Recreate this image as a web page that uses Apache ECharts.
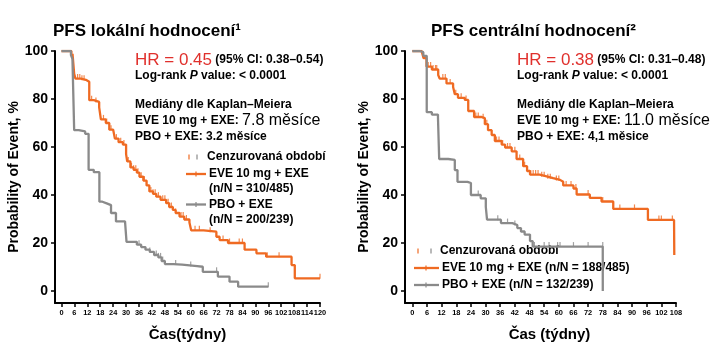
<!DOCTYPE html>
<html>
<head>
<meta charset="utf-8">
<script src="https://cdn.jsdelivr.net/npm/echarts@6/dist/echarts.min.js"></script>
<style>
html,body{margin:0;padding:0;background:#fff}
#chart{width:722px;height:351px}
</style>
</head>
<body>
<div id="chart"></div>
<script>
// tick labels
var lokTicks = [0,6,12,18,24,30,36,42,48,54,60,66,72,78,84,90,96,102,108,114,120];
var cenTicks = [0,6,12,18,24,30,36,42,48,54,60,66,72,78,84,90,96,102,108];
var yTicks = [0,20,40,60,80,100];

// PFS lokalni hodnoceni - [tyden, %]
var lokEve = [[0,100],[3,100],[4.6,99],[5.3,97],[5.9,90.5],[6.5,88.5],[9,88],[11.3,87.2],[12.9,79.5],[15,78.8],[17.5,76.5],[18.3,71.5],[20.6,70],[22.2,67.2],[24,66.5],[24.8,63.5],[26.5,62],[28.5,61],[30,57],[30.5,54],[32,51.5],[33.5,50.5],[35,49.3],[36.2,47.6],[38,46],[39.5,44],[40.8,41.5],[42.5,40.5],[44,39.3],[46,38],[48.6,36.6],[50,35],[51.7,33.8],[53,32.5],[54.8,31],[57,29.8],[59.4,28.5],[60.2,25.3],[66,24.7],[71.9,22.6],[73.4,21.2],[77.3,20],[85,17.2],[90.5,15.7],[95,14.3],[106.8,10.8],[108.3,5.3],[120,5.3]];
var lokPbo = [[0,100],[2.8,100],[4.4,98.3],[5.1,96.7],[5.9,67],[8,66.5],[11,65.5],[12.6,50.5],[15,49.5],[17.6,37.2],[19,36.5],[21,35.8],[23,32.5],[25.3,29],[29.5,28.8],[30.2,20.5],[35,19.3],[37,18.3],[39,17.2],[41,16.3],[43,15],[45,14],[46.5,12.5],[48,11.2],[52,11],[56,10.4],[63,10.1],[65.6,8],[72.6,6],[78,3.9],[82,1.8],[96,1.8]];
var lokEveCens = [5.5,7.5,8.5,9.5,10.5,14,16,19.5,21,23,25.5,27.5,29,31,32.5,33.5,34.5,35.5,37,38.5,39.5,41.5,42.5,43.5,45,47,48,49.5,51,53,55.5,56.5,58,62,64,69,75,78,82.5,84,95.5,101,120];
var lokPboCens = [36,41,44,45,46,47,53,60,72,96];

// PFS centralni hodnoceni - [tyden, %]
var cenEve = [[0,100],[3.8,100],[4.6,97],[5.8,93.5],[8,92.3],[10.6,90],[11.2,88.5],[14,86.5],[16.7,85],[17.4,82],[18.7,80.5],[21.5,79.6],[22.9,75],[25.3,72.5],[28.4,72],[29.7,69.5],[31,67],[32.5,65],[33.8,62.5],[36.6,61],[38,59.8],[40.7,58.2],[42.7,55],[45.4,52],[47,50],[48.2,48.5],[52.2,47.8],[55,47],[57.7,46.3],[60.5,45.5],[61.8,44],[66,42.7],[67.3,40.2],[72.7,38.8],[77.5,37.3],[82.3,34.2],[96.5,29.6],[107.2,29.6],[107.3,15]];
var cenPbo = [[0,100],[3,99.5],[4.5,98],[5.9,74.5],[8,73.5],[10.5,72.5],[11,55],[14.7,54.6],[17.4,50.4],[18.5,45.5],[22.6,45],[24,40],[28,38.6],[30.1,35],[30.6,29.7],[36.3,28.3],[41,27.5],[43,26.2],[44.5,24.8],[46,23.5],[48.2,20.8],[49.3,18.5],[78,18.5],[78.01,0]];
var cenEveCens = [6.5,7.5,8.5,9.5,10,12.5,13.5,15.5,17.8,20,22,26,27,29,30.5,34.5,35.5,37,39,40,42,44,46,48.5,49.5,50.5,51.5,53,54,55.5,56.5,59,60,63,65,67,72,78,85,91,101,102,106.5];
var cenPboCens = [27,35,39,42,50,54,56,59.5,60.5,66,72,78];

var ORANGE = '#ef6a22';
var GREY = '#8a8a8a';
var RED = '#e0302c';
var FONT = '"Liberation Sans", Arial, sans-serif';

function stepAt(curve, t) {
	var v = curve[0][1];
	for (var i = 0; i < curve.length; i++) {
		if (curve[i][0] <= t) v = curve[i][1];
	}
	return v;
}
function cens(curve, times) {
	return times.map(function(t) { return [t, stepAt(curve, t)]; });
}

function xAxis(gi, max, ticks, name, namePad) {
	return {
		type: 'value', gridIndex: gi, min: -3, max: max,
		name: name, nameLocation: 'middle', nameGap: 24,
		nameTextStyle: {fontSize: 15, fontWeight: 'bold', color: '#000', fontFamily: FONT, padding: namePad},
		axisLine: {onZero: false, lineStyle: {color: '#000', width: 2}},
		axisTick: {customValues: ticks, length: 4, lineStyle: {color: '#000', width: 1.5}},
		axisLabel: {customValues: ticks, showMaxLabel: true, showMinLabel: true, hideOverlap: false,
			fontSize: 7.4, fontWeight: 'bold', color: '#000', margin: 6, fontFamily: FONT},
		splitLine: {show: false}
	};
}
function yAxis(gi) {
	return {
		type: 'value', gridIndex: gi, min: -5, max: 100,
		name: 'Probability of Event, %', nameLocation: 'middle', nameGap: 30,
		nameTextStyle: {fontSize: 14, fontWeight: 'bold', color: '#000', fontFamily: FONT},
		axisLine: {show: true, onZero: false, lineStyle: {color: '#000', width: 2}},
		axisTick: {show: true, customValues: yTicks, length: 4, lineStyle: {color: '#000', width: 1.5}},
		axisLabel: {customValues: yTicks, fontSize: 14, fontWeight: 'bold', color: '#000', margin: 7, fontFamily: FONT},
		splitLine: {show: false}
	};
}
function curveSeries(name, gi, data, color) {
	return {
		type: 'line', name: name, xAxisIndex: gi, yAxisIndex: gi, data: data,
		step: 'end', showSymbol: false, silent: true,
		lineStyle: {color: color, width: 2.3}, itemStyle: {color: color}
	};
}
function censSeries(name, gi, data, color) {
	return {
		type: 'scatter', name: name, xAxisIndex: gi, yAxisIndex: gi, data: data,
		symbol: 'rect', symbolSize: [1.2, 5], symbolOffset: [0, -2], silent: true,
		itemStyle: {color: color}
	};
}

var rich = {
	r: {fontSize: 17, fill: RED, fontFamily: FONT},
	b: {fontSize: 12, fontWeight: 'bold', fill: '#000', fontFamily: FONT},
	bi: {fontSize: 12, fontWeight: 'bold', fontStyle: 'italic', fill: '#000', fontFamily: FONT},
	l: {fontSize: 16, fill: '#000', fontFamily: FONT}
};
function txt(x, y, text, size) {
	return {
		type: 'text', x: x, y: y, silent: true,
		style: {text: text, rich: rich, fontSize: size || 12, fontWeight: 'bold', fill: '#000',
			fontFamily: FONT, verticalAlign: 'middle'}
	};
}
function hline(x1, x2, y, color) {
	return {type: 'line', silent: true, shape: {x1: x1, y1: y, x2: x2, y2: y}, style: {stroke: color, lineWidth: 2.3}};
}
function vtick(x, y, color) {
	return {type: 'rect', silent: true, shape: {x: x - 0.6, y: y - 2.5, width: 1.2, height: 5}, style: {fill: color}};
}

var chart = echarts.init(document.getElementById('chart'));
var option = {
	animation: false,
	backgroundColor: '#fff',
	grid: [
		{left: 55, right: 402, top: 51, bottom: 48},
		{left: 405, right: 46, top: 51, bottom: 48}
	],
	xAxis: [
		xAxis(0, 120, lokTicks, 'Čas(týdny)', [0, 0, 0, 0]),
		xAxis(1, 108, cenTicks, 'Čas (týdny)', [0, 0, 0, 18])
	],
	yAxis: [yAxis(0), yAxis(1)],
	series: [
		curveSeries('EVE 10 mg + EXE', 0, lokEve, ORANGE),
		censSeries('EVE cenz', 0, cens(lokEve, lokEveCens), ORANGE),
		curveSeries('PBO + EXE', 0, lokPbo, GREY),
		censSeries('PBO cenz', 0, cens(lokPbo, lokPboCens), GREY),
		curveSeries('EVE 10 mg + EXE', 1, cenEve, ORANGE),
		censSeries('EVE cenz', 1, cens(cenEve, cenEveCens), ORANGE),
		curveSeries('PBO + EXE', 1, cenPbo, GREY),
		censSeries('PBO cenz', 1, cens(cenPbo, cenPboCens), GREY)
	],
	graphic: [
		txt(53, 31, 'PFS lokální hodnocení¹', 17),
		txt(431, 31, 'PFS centrální hodnocení²', 17),
		// levy blok
		txt(135, 60, '{r|HR = 0.45} {b|(95% CI: 0.38–0.54)}'),
		txt(135, 76, '{b|Log-rank }{bi|P}{b| value: < 0.0001}'),
		txt(135, 105, 'Mediány dle Kaplan–Meiera'),
		txt(135, 121, '{b|EVE 10 mg + EXE: }{l|7.8 měsíce}'),
		txt(135, 137, 'PBO + EXE: 3.2 měsíce'),
		vtick(189, 157, ORANGE), vtick(197, 157, GREY),
		txt(207, 157, 'Cenzurovaná období'),
		hline(186, 206, 174, ORANGE), vtick(196, 174, ORANGE),
		txt(209, 174, 'EVE 10 mg + EXE'),
		txt(209, 189, '(n/N = 310/485)'),
		hline(186, 206, 204.5, GREY), vtick(196, 204.5, GREY),
		txt(209, 204.5, 'PBO + EXE'),
		txt(209, 220, '(n/N = 200/239)'),
		// pravy blok
		txt(517, 60, '{r|HR = 0.38} {b|(95% CI: 0.31–0.48)}'),
		txt(517, 76, '{b|Log-rank }{bi|P}{b| value: < 0.0001}'),
		txt(517, 105, 'Mediány dle Kaplan–Meiera'),
		txt(517, 121, '{b|EVE 10 mg + EXE: }{l|11.0 měsíce}'),
		txt(517, 137, 'PBO + EXE: 4,1 měsice'),
		vtick(418, 251, ORANGE), vtick(431, 251, GREY),
		txt(440, 251, 'Cenzurovaná období'),
		hline(414, 439, 268, ORANGE), vtick(426, 268, ORANGE),
		txt(442, 268, 'EVE 10 mg + EXE (n/N = 188/485)'),
		hline(414, 439, 285, GREY), vtick(426, 285, GREY),
		txt(442, 285, 'PBO + EXE (n/N = 132/239)')
	]
};
chart.setOption(option);
</script>
</body>
</html>
